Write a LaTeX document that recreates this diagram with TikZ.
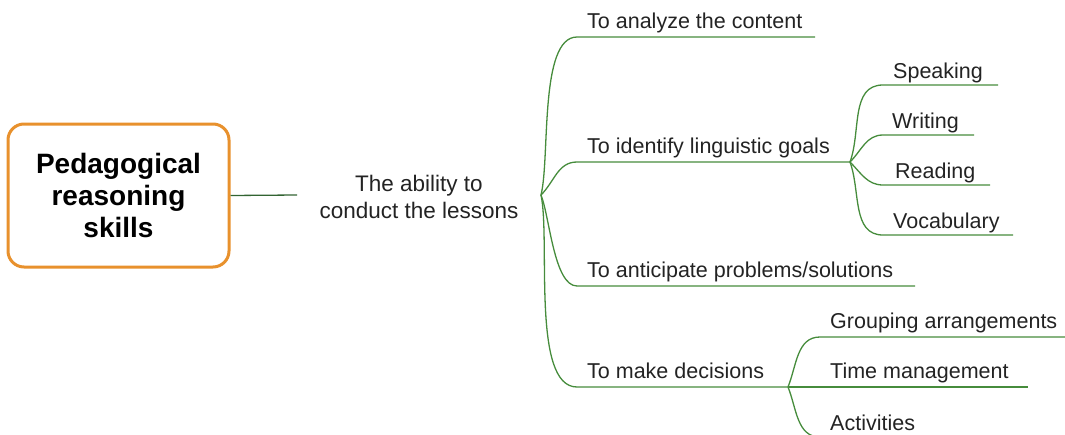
\documentclass[tikz,border=0pt]{standalone}
\usepackage{fontspec}
\setmainfont{Liberation Sans}
\begin{document}
\begin{tikzpicture}[x=1pt,y=-1pt,
  br/.style={draw=brgreen,line width=1.3pt},
  lbl/.style={anchor=base west,inner sep=0pt,text=txt,font=\fontsize{21.5}{25}\selectfont},
  rootbox/.style={draw=rootorange,line width=3pt,rounded corners=16pt,minimum width=221pt,minimum height=143pt,align=center,text=black,font=\fontsize{28}{32}\selectfont\bfseries},
  midnode/.style={align=center,text=txt,inner xsep=20pt,inner ysep=0pt,font=\fontsize{22.5}{27}\selectfont}]
\definecolor{brgreen}{RGB}{70,140,60}
\definecolor{rootline}{RGB}{50,100,50}
\definecolor{rootorange}{RGB}{232,145,45}
\definecolor{txt}{RGB}{35,35,35}
\useasboundingbox (0,0) rectangle (1065,434);
\clip (0,0) rectangle (1065,434);

\node[rootbox] (root) at (118.5,195.5) {Pedagogical\\reasoning\\skills};
\node[midnode] (ability) at (419,197) {The ability to\\conduct the lessons};
\coordinate (hub) at (541,195);
\coordinate (abL) at (297,195);
\draw[draw=rootline,line width=1.3pt] (root.east) -- (abL);

% level 1
\coordinate (a1) at (577,37);  \coordinate (a1e) at (815,37);
\coordinate (a2) at (577,162); \coordinate (h2) at (850,162);
\coordinate (a3) at (577,286); \coordinate (a3e) at (915,286);
\coordinate (a4) at (577,387); \coordinate (h4) at (788,387);

\draw[br] (hub) to[out=76,in=180,looseness=0.6] (a1) -- (a1e);
\draw[br] (hub) to[out=45,in=180] (a2) -- (h2);
\draw[br] (hub) to[out=-68,in=180,looseness=0.6] (a3) -- (a3e);
\draw[br] (hub) to[out=-78,in=180,looseness=0.6] (a4) -- (h4);

\node[lbl] (t1) at (587,28) {To analyze the content};
\node[lbl] (t2) at (587,153) {To identify linguistic goals};
\node[lbl] (t3) at (587,277) {To anticipate problems/solutions};
\node[lbl] (t4) at (587,378) {To make decisions};

% linguistic goals
\coordinate (s1) at (883,85);  \coordinate (s1e) at (998,85);
\coordinate (s2) at (883,135); \coordinate (s2e) at (974,135);
\coordinate (s3) at (883,185); \coordinate (s3e) at (990,185);
\coordinate (s4) at (883,235); \coordinate (s4e) at (1013,235);
\draw[br] (h2) to[out=70,in=180] (s1) -- (s1e);
\draw[br] (h2) to[out=45,in=180] (s2) -- (s2e);
\draw[br] (h2) to[out=-45,in=180] (s3) -- (s3e);
\draw[br] (h2) to[out=-70,in=180] (s4) -- (s4e);
\node[lbl] (u1) at (893,78) {Speaking};
\node[lbl] (u2) at (892,128) {Writing};
\node[lbl] (u3) at (895,178) {Reading};
\node[lbl] (u4) at (893,228) {Vocabulary};

% decisions
\coordinate (d1) at (820,337); \coordinate (d1e) at (1065,337);
\coordinate (d2e) at (1028,387);
\coordinate (d3) at (820,437); \coordinate (d3e) at (960,437);
\draw[br] (h4) to[out=68,in=180] (d1) -- (d1e);
\draw[br] (h4) -- (d2e);
\draw[br] (h4) to[out=-68,in=180] (d3) -- (d3e);
\node[lbl] (v1) at (830,328) {Grouping arrangements};
\node[lbl] (v2) at (830,378) {Time management};
\node[lbl] (v3) at (830,430) {Activities};
\end{tikzpicture}
\end{document}
